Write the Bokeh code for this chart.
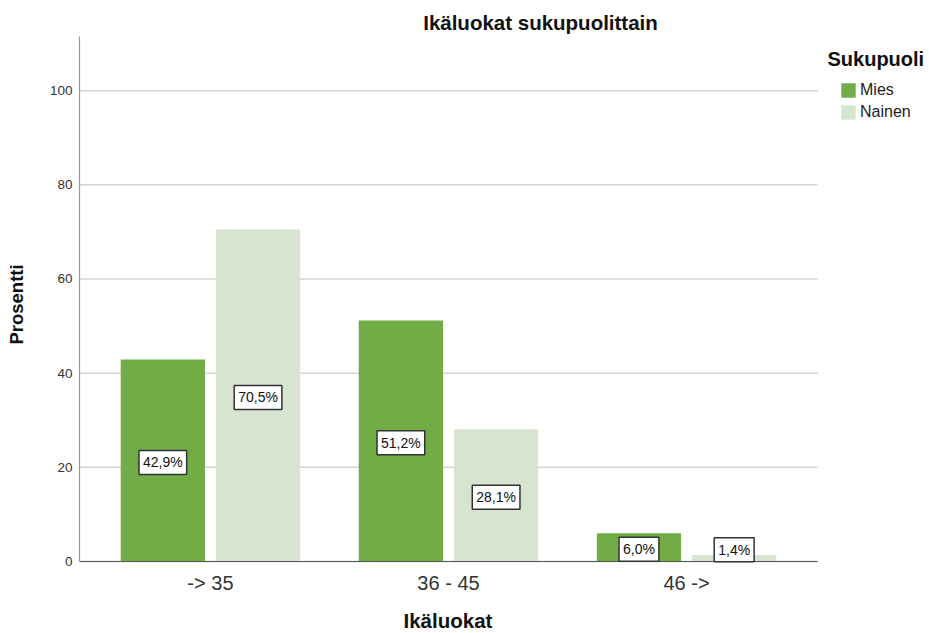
from bokeh.plotting import figure
from bokeh.models import (Range1d, ColumnDataSource, Label, Legend,
                          LegendItem, FixedTicker, Title)
from bokeh.embed import file_html
from bokeh.resources import INLINE

# ---- data ----
categories = ["-> 35", "36 - 45", "46 ->"]
mies = [42.9, 51.2, 6.0]
nainen = [70.5, 28.1, 1.4]
series_names = ["Mies", "Nainen"]
yticks = [0, 20, 40, 60, 80, 100]
title_text = "Ikäluokat sukupuolittain"
x_title = "Ikäluokat"
y_title = "Prosentti"
legend_title = "Sukupuoli"

# ---- layout / style ----
FONT = "Liberation Sans"
GREEN = "#70ad47"
LIGHT = "#d6e4d0"
OFFSET = 0.2
BAR_W = 0.354
W, H = 929, 633
LEFT = 79                    # frame left (y axis)
BOTTOM_PANEL = 25            # space below the frame for the x title
FRAME_B = H - BOTTOM_PANEL
PLOT_R = 817                 # right end of plotting area
PLOT_T, PLOT_B = 36, 561     # pixel rows of y=Y_TOP and y=0
X_LO, X_HI = -0.05, len(categories) + 0.05
Y_TOP = 111.5

xpx = (PLOT_R - LEFT) / (X_HI - X_LO)
ypx = (PLOT_B - PLOT_T) / Y_TOP
x_range = Range1d(X_LO, X_LO + (W - LEFT) / xpx)
y_range = Range1d(-(FRAME_B - PLOT_B) / ypx, Y_TOP + PLOT_T / ypx)

xc = [i + 0.5 for i in range(len(categories))]
src = ColumnDataSource(dict(
    xm=[x - OFFSET for x in xc], xn=[x + OFFSET for x in xc],
    mies=mies, nainen=nainen))

p = figure(x_range=x_range, y_range=y_range, width=W, height=H,
           output_backend="svg", toolbar_location=None,
           min_border_left=LEFT, min_border_right=0, min_border_top=0,
           min_border_bottom=BOTTOM_PANEL)
p.outline_line_color = None
p.background_fill_color = "white"
p.border_fill_color = "white"
p.xaxis.visible = False
p.xgrid.visible = False
p.ygrid.visible = False

# grid lines (stop at the plot's right edge)
p.segment(x0=[X_LO] * len(yticks), x1=[X_HI] * len(yticks), y0=yticks,
          y1=yticks, line_color="#d4d4d4", line_width=1.5)

r1 = p.vbar(x="xm", top="mies", width=BAR_W, source=src,
            fill_color=GREEN, line_color=None)
r2 = p.vbar(x="xn", top="nainen", width=BAR_W, source=src,
            fill_color=LIGHT, line_color=None)

# x baseline
p.segment(x0=[X_LO], x1=[X_HI], y0=[0], y1=[0], line_color="#555555",
          line_width=1.2)

# y axis
p.yaxis.ticker = FixedTicker(ticks=yticks)
p.yaxis.bounds = (0, Y_TOP)
p.yaxis.axis_line_color = "#999999"
p.yaxis.axis_line_width = 1.2
p.yaxis.major_tick_in = 0
p.yaxis.major_tick_out = 0
p.yaxis.minor_tick_line_color = None
p.yaxis.major_label_text_font = FONT
p.yaxis.major_label_text_font_size = "13.5px"
p.yaxis.major_label_text_color = "#333333"
p.yaxis.major_label_standoff = 7
p.yaxis.axis_label = y_title
p.yaxis.axis_label_text_font = FONT
p.yaxis.axis_label_text_font_size = "18.5px"
p.yaxis.axis_label_text_font_style = "bold"
p.yaxis.axis_label_text_color = "#111111"
p.yaxis.axis_label_standoff = 20

# x tick labels
for x, c in zip(xc, categories):
    p.add_layout(Label(x=x, y=0, y_offset=-21, text=c, text_font=FONT,
                       text_font_size="20px", text_color="#333333",
                       text_align="center", text_baseline="middle"))

# value labels
def fmt(v):
    return f"{v:.1f}".replace(".", ",") + "%"

for x, m, n in zip(xc, mies, nainen):
    for v, off in ((m, -OFFSET), (n, OFFSET)):
        yv = max(v / 2 - 0.4, 2.5)
        p.add_layout(Label(x=x + off, y=yv, text=fmt(v),
                           text_font=FONT, text_font_size="14px",
                           text_color="#111111", text_align="center",
                           text_baseline="middle",
                           background_fill_color="white",
                           border_line_color="#333333", border_line_width=1.5,
                           padding=4))

# titles (screen units, relative to frame bottom-left)
def slabel(text, sx, sy, size, align="center"):
    return Label(x=sx - LEFT, y=FRAME_B - sy, x_units="screen",
                 y_units="screen", text=text, text_font=FONT,
                 text_font_size=size, text_font_style="bold",
                 text_align=align, text_baseline="middle",
                 text_color="#111111")

p.add_layout(slabel(title_text, 540, 22, "20.5px"))
p.add_layout(slabel(legend_title, 827, 58, "20px", align="left"))

# x axis title in the panel below the frame
p.add_layout(Title(text=x_title, align="left", offset=403 - LEFT,
                   vertical_align="top", standoff=0, text_font=FONT,
                   text_font_size="20.5px", text_font_style="bold",
                   text_color="#111111"), "below")

legend = Legend(items=[LegendItem(label=series_names[0], renderers=[r1]),
                       LegendItem(label=series_names[1], renderers=[r2])],
                location=(839 - LEFT, FRAME_B - 121), padding=0, margin=0,
                border_line_color=None, background_fill_alpha=0,
                glyph_width=18, glyph_height=18, label_height=18,
                spacing=4, label_standoff=3,
                label_text_font=FONT, label_text_font_size="16px",
                label_text_color="#222222")
p.add_layout(legend)

open("out.html", "w").write(file_html(p, INLINE))
